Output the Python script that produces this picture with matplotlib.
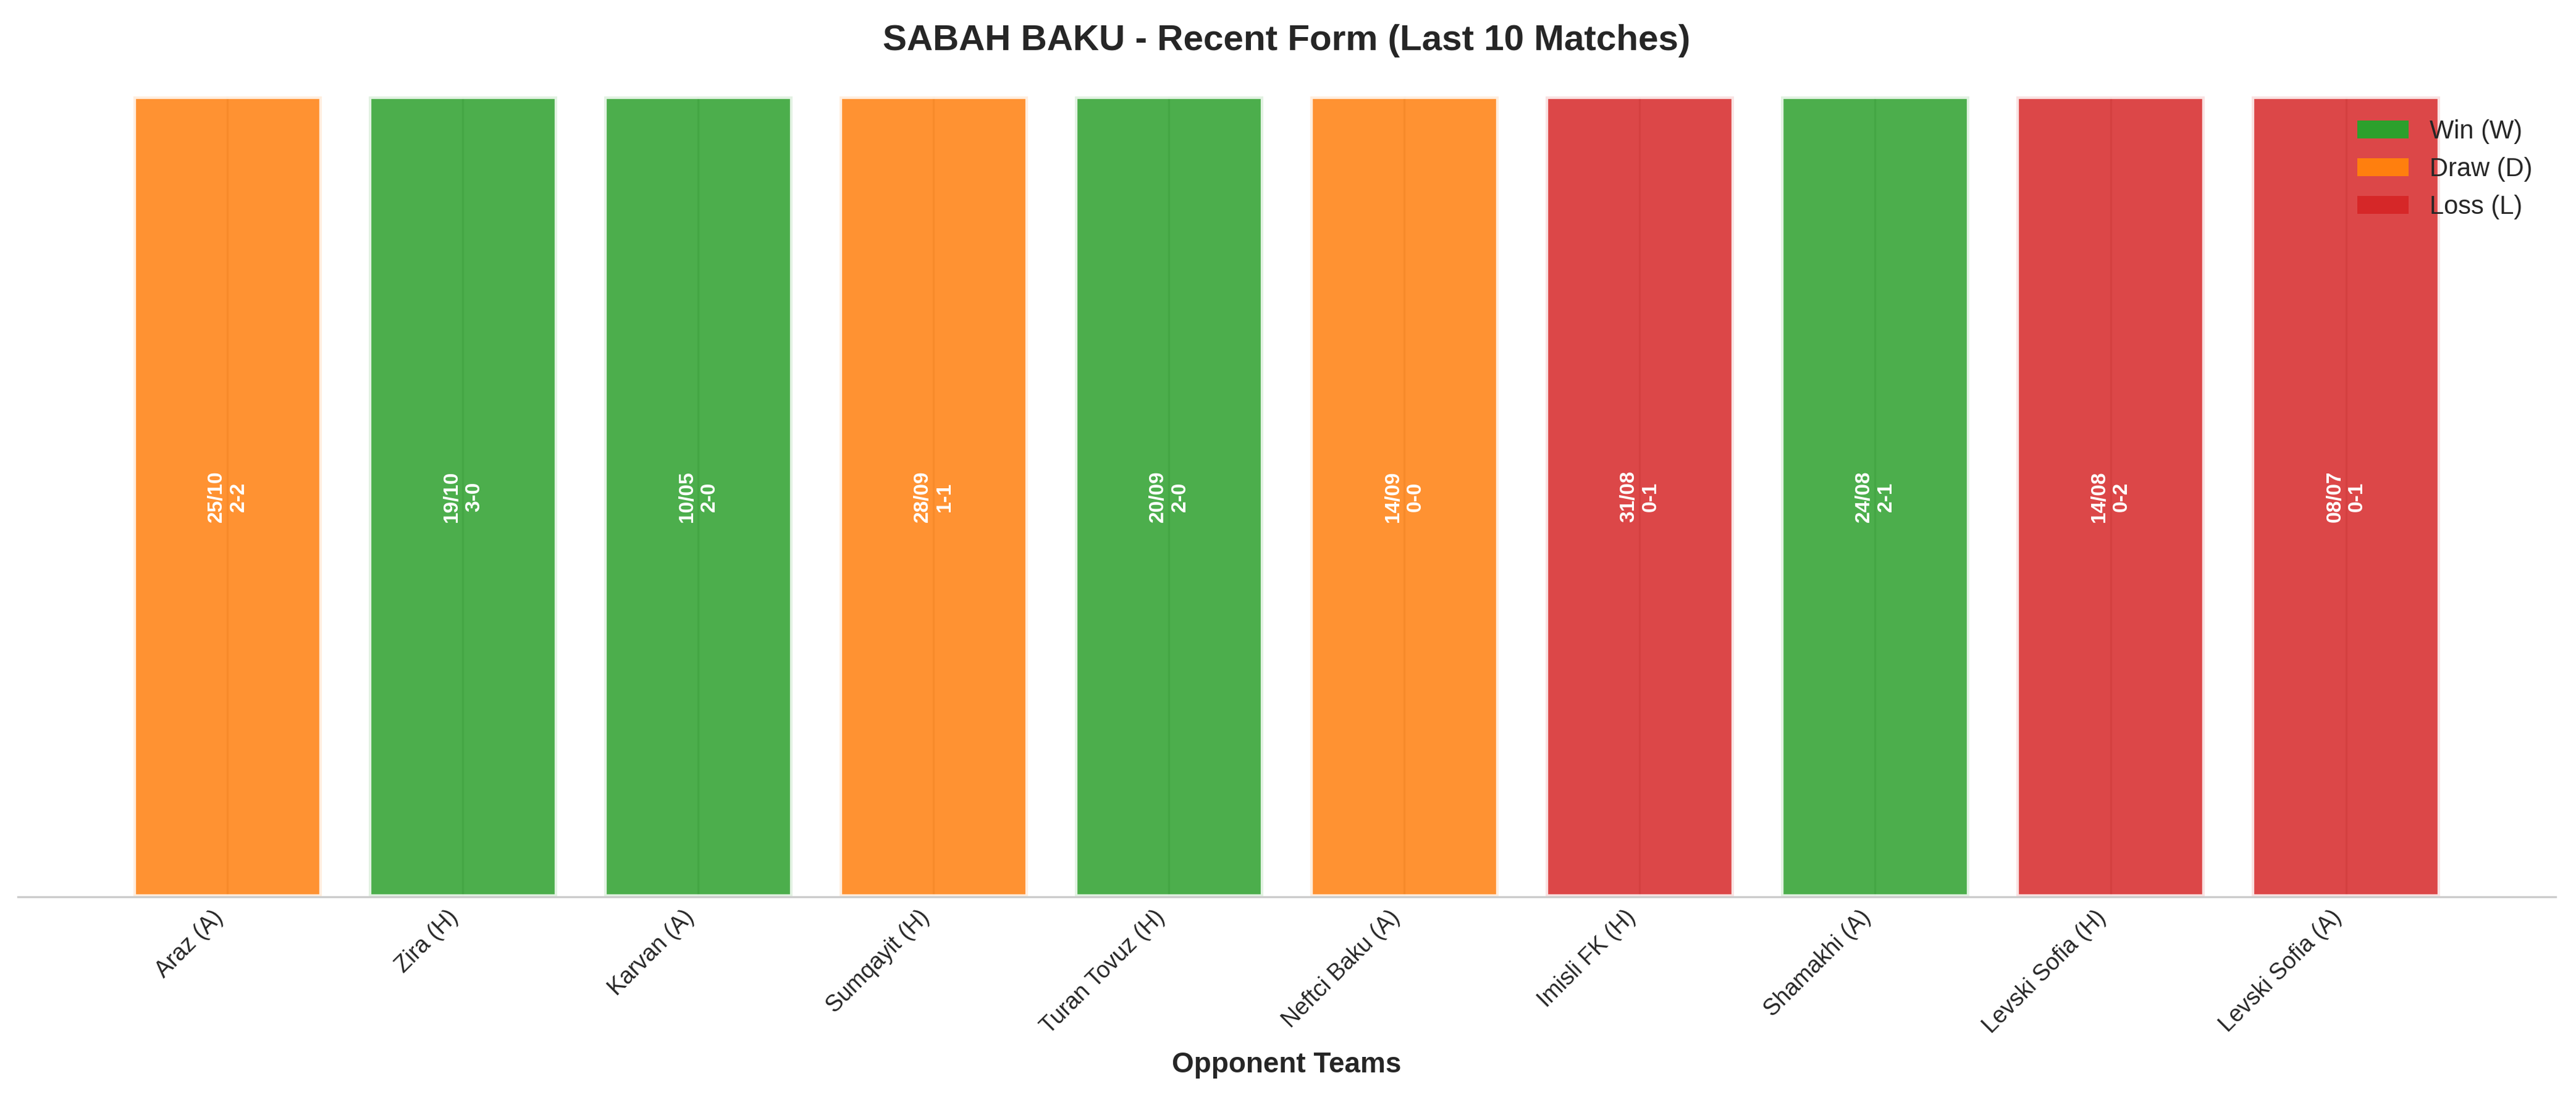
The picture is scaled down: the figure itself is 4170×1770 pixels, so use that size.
import matplotlib
matplotlib.use("Agg")
import matplotlib.pyplot as plt
import seaborn as sns
from matplotlib.patches import Patch

opponents = ["Araz (A)", "Zira (H)", "Karvan (A)", "Sumqayit (H)", "Turan Tovuz (H)",
             "Neftci Baku (A)", "Imisli FK (H)", "Shamakhi (A)", "Levski Sofia (H)", "Levski Sofia (A)"]
results = ["D", "W", "W", "D", "W", "D", "L", "W", "L", "L"]
dates = ["25/10", "19/10", "10/05", "28/09", "20/09", "14/09", "31/08", "24/08", "14/08", "08/07"]
scores = ["2-2", "3-0", "2-0", "1-1", "2-0", "0-0", "0-1", "2-1", "0-2", "0-1"]
values = [1] * len(opponents)

colors = {"W": "#2ca02c", "D": "#ff7f0e", "L": "#d62728"}

sns.set_style("whitegrid")
plt.rcParams["font.family"] = ["Liberation Sans", "DejaVu Sans"]

fig, ax = plt.subplots(figsize=(13.9, 5.9), dpi=300)
fig.subplots_adjust(left=0.007, right=0.992, top=0.912, bottom=0.180)
x = list(range(len(opponents)))
ax.bar(x, values, color=[colors[r] for r in results], alpha=0.85,
       edgecolor="white", linewidth=2)
for xi, d, s in zip(x, dates, scores):
    ax.text(xi, 0.5, f"{d}\n{s}", ha="center", va="center", rotation=90,
            color="white", fontsize=8, fontweight="bold")

ax.set_xticks(x)
ax.set_xticklabels(opponents, rotation=45, ha="right", fontsize=9)
ax.tick_params(axis="x", length=0, pad=3.5)
ax.set_yticks([])
ax.set_ylim(0, 1)
ax.set_xlabel("Opponent Teams", fontsize=11, fontweight="bold", labelpad=5)
ax.set_title("SABAH BAKU - Recent Form (Last 10 Matches)", fontsize=14, fontweight="bold", pad=18)
for sp in ["left", "right", "top"]:
    ax.spines[sp].set_visible(False)
ax.spines["bottom"].set_color("#cccccc")

handles = [Patch(facecolor=colors["W"], edgecolor="none", label="Win (W)"),
           Patch(facecolor=colors["D"], edgecolor="none", label="Draw (D)"),
           Patch(facecolor=colors["L"], edgecolor="none", label="Loss (L)")]
ax.legend(handles=handles, loc="upper right", frameon=False, fontsize=10)

fig.savefig("out.png", dpi=300)
